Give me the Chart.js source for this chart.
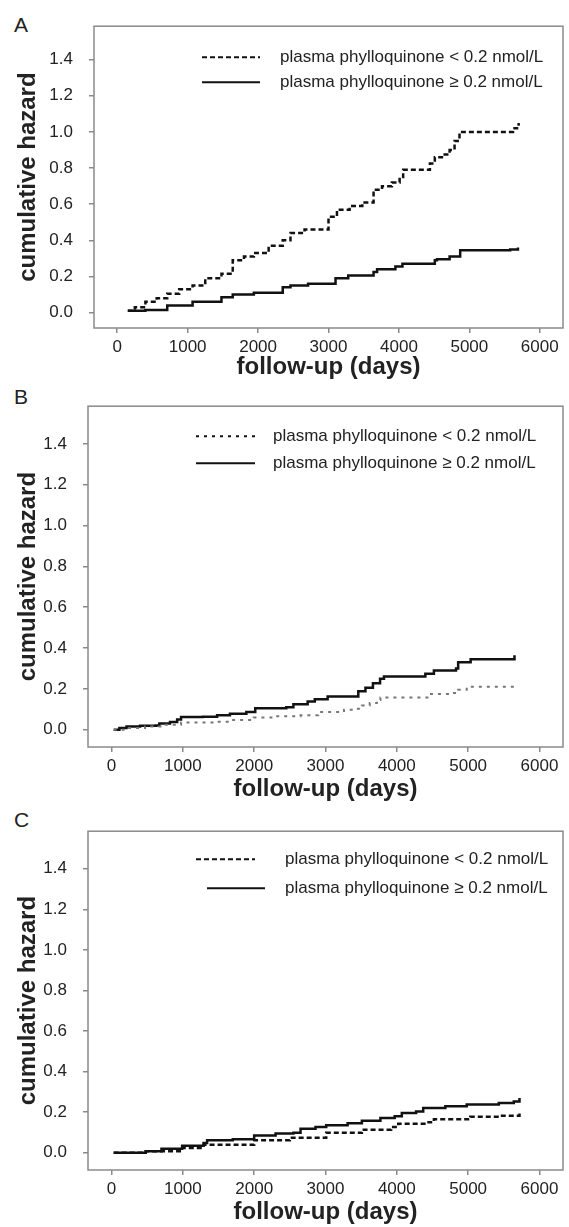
<!DOCTYPE html>
<html>
<head>
<meta charset="utf-8">
<script src="https://cdn.jsdelivr.net/npm/chart.js@4.4.0/dist/chart.umd.min.js"></script>
<style>
  html, body { margin: 0; padding: 0; background: #fff; }
  body { width: 569px; height: 1227px; position: relative; overflow: hidden; font-family: "Liberation Sans", Arial, sans-serif; }
  .panel { position: absolute; left: 0; width: 569px; }
  .letter { position: absolute; left: 14px; font-size: 21px; color: #222; line-height: 1; }
</style>
</head>
<body>
<div class="letter" style="top:14px">A</div>
<div class="letter" style="top:386px">B</div>
<div class="letter" style="top:809px">C</div>
<div class="panel" style="top:0;height:385px"><canvas id="chartA"></canvas></div>
<div class="panel" style="top:380px;height:430px"><canvas id="chartB"></canvas></div>
<div class="panel" style="top:805px;height:422px"><canvas id="chartC"></canvas></div>
<script>
// cumulative hazard (follow-up days / hazard)
const LABEL_LOW  = 'plasma phylloquinone < 0.2 nmol/L';
const LABEL_HIGH = 'plasma phylloquinone \u2265 0.2 nmol/L';
const Y_TICKS = [0, 0.2, 0.4, 0.6, 0.8, 1.0, 1.2, 1.4];
const X_TICKS = [0, 1000, 2000, 3000, 4000, 5000, 6000];

// panel A
const aLowDays = [150, 250, 400, 560, 710, 880, 1070, 1250, 1480, 1640, 1800, 1940, 2150, 2350, 2460, 2660, 2920, 3000, 3120, 3300, 3480, 3640, 3760, 3900, 4010, 4060, 4400, 4440, 4510, 4650, 4720, 4790, 4860, 5540, 5620, 5700];
const aLowHaz  = [0.01, 0.03, 0.06, 0.08, 0.105, 0.13, 0.15, 0.19, 0.215, 0.29, 0.31, 0.33, 0.37, 0.40, 0.44, 0.46, 0.46, 0.53, 0.57, 0.59, 0.61, 0.68, 0.70, 0.72, 0.74, 0.79, 0.79, 0.825, 0.86, 0.875, 0.90, 0.95, 1.00, 1.00, 1.02, 1.05];
const aHighDays = [150, 400, 710, 1070, 1480, 1640, 1940, 2350, 2460, 2710, 2970, 3100, 3280, 3640, 3690, 3950, 4050, 4410, 4510, 4540, 4720, 4870, 5580, 5690];
const aHighHaz  = [0.01, 0.015, 0.04, 0.06, 0.085, 0.10, 0.11, 0.14, 0.15, 0.16, 0.16, 0.19, 0.205, 0.225, 0.24, 0.255, 0.27, 0.27, 0.29, 0.295, 0.31, 0.345, 0.35, 0.36];

// panel B
const bLowDays = [30, 200, 470, 720, 975, 1480, 1690, 1990, 2290, 2650, 2900, 3260, 3390, 3510, 3620, 3720, 3770, 4330, 4460, 4780, 4860, 4980, 5650];
const bLowHaz  = [0, 0.008, 0.016, 0.024, 0.035, 0.039, 0.047, 0.06, 0.066, 0.07, 0.086, 0.098, 0.102, 0.118, 0.13, 0.145, 0.158, 0.158, 0.175, 0.18, 0.196, 0.21, 0.21];
const bHighDays = [30, 110, 210, 400, 620, 670, 820, 920, 975, 1280, 1480, 1660, 1890, 2015, 2450, 2550, 2750, 2850, 3030, 3360, 3460, 3560, 3665, 3765, 3820, 4350, 4400, 4520, 4830, 4860, 5035, 5640, 5650];
const bHighHaz  = [0, 0.008, 0.015, 0.019, 0.02, 0.03, 0.038, 0.05, 0.062, 0.063, 0.07, 0.078, 0.086, 0.105, 0.11, 0.125, 0.138, 0.149, 0.163, 0.163, 0.188, 0.205, 0.228, 0.25, 0.26, 0.26, 0.274, 0.29, 0.30, 0.33, 0.345, 0.345, 0.365];

// panel C
const cLowDays = [30, 480, 990, 1290, 2000, 2500, 3010, 3510, 3920, 4020, 4420, 4520, 5030, 5430, 5720];
const cLowHaz  = [0, 0.008, 0.024, 0.04, 0.062, 0.074, 0.098, 0.114, 0.127, 0.143, 0.15, 0.165, 0.177, 0.182, 0.195];
const cHighDays = [30, 480, 700, 990, 1290, 1340, 1700, 2000, 2300, 2550, 2650, 2860, 3010, 3310, 3510, 3770, 3970, 4070, 4270, 4370, 4680, 4980, 5430, 5640, 5720];
const cHighHaz  = [0, 0.008, 0.02, 0.035, 0.048, 0.062, 0.067, 0.085, 0.095, 0.098, 0.118, 0.127, 0.135, 0.146, 0.158, 0.171, 0.18, 0.196, 0.203, 0.22, 0.229, 0.238, 0.245, 0.253, 0.27];

const FONT = '"Liberation Sans", Arial, sans-serif';
const TEXT = '#222';
const AXIS = '#8a8a8a';

function points(days, haz) {
  return days.map((d, i) => ({ x: d, y: haz[i] }));
}

// box round the plot area
const frame = {
  id: 'frame',
  afterDraw(chart) {
    const { ctx, chartArea: a } = chart;
    ctx.save();
    ctx.strokeStyle = AXIS;
    ctx.lineWidth = 1.5;
    ctx.strokeRect(a.left, a.top, a.right - a.left, a.bottom - a.top);
    ctx.restore();
  },
};

// legend drawn inside the plot, top right
const insideLegend = {
  id: 'insideLegend',
  afterDatasetsDraw(chart, args, opts) {
    const { ctx, chartArea: a } = chart;
    ctx.save();
    ctx.font = '17px ' + FONT;
    ctx.textBaseline = 'middle';
    ctx.fillStyle = TEXT;
    chart.data.datasets.forEach((ds, i) => {
      const y = a.top + opts.rows[i];
      const s = opts.samples[i];
      ctx.strokeStyle = '#111';
      ctx.lineWidth = 2;
      ctx.setLineDash(ds.borderDash || []);
      ctx.beginPath();
      ctx.moveTo(a.left + s[0], y);
      ctx.lineTo(a.left + s[1], y);
      ctx.stroke();
      ctx.setLineDash([]);
      ctx.fillText(ds.label, a.left + opts.textX, y);
    });
    ctx.restore();
  },
};

function buildDatasets(low, high, lowStyle) {
  return [
    {
      label: LABEL_LOW,
      data: low,
      borderColor: lowStyle.color,
      borderWidth: lowStyle.width,
      borderDash: lowStyle.dash,
      stepped: true,
      pointRadius: 0,
    },
    {
      label: LABEL_HIGH,
      data: high,
      borderColor: '#111',
      borderWidth: 2.5,
      stepped: true,
      pointRadius: 0,
    },
  ];
}

function chartOptions(p) {
  return {
    responsive: true,
    maintainAspectRatio: false,
    animation: false,
    layout: { padding: { top: p.padTop, right: 6, left: 0, bottom: p.padBottom } },
    plugins: {
      legend: { display: false },
      tooltip: { enabled: false },
      insideLegend: p.legend,
    },
    scales: {
      x: {
        type: 'linear',
        min: -330,
        max: 6330,
        afterFit: s => { s.height = p.xHeight; },
        afterBuildTicks: s => { s.ticks = X_TICKS.map(v => ({ value: v })); },
        ticks: { color: TEXT, font: { family: FONT, size: 17 }, padding: 4, maxRotation: 0, callback: v => String(v) },
        grid: { drawOnChartArea: false, drawTicks: true, tickLength: 5, color: AXIS, lineWidth: 1.5 },
        border: { display: false },
        title: { display: true, text: 'follow-up (days)', color: TEXT, font: { family: FONT, size: 24, weight: 'bold' }, padding: { top: 0, bottom: 0 } },
      },
      y: {
        type: 'linear',
        min: -0.085,
        max: 1.585,
        afterFit: s => { s.width = p.yWidth; },
        afterBuildTicks: s => { s.ticks = Y_TICKS.map(v => ({ value: v })); },
        ticks: { color: TEXT, font: { family: FONT, size: 17 }, padding: 16, callback: v => v.toFixed(1) },
        grid: { drawOnChartArea: false, drawTicks: true, tickLength: 5, color: AXIS, lineWidth: 1.5 },
        border: { display: false },
        title: { display: true, text: 'cumulative hazard', color: TEXT, font: { family: FONT, size: 24, weight: 'bold' }, padding: { top: 14, bottom: 0 } },
      },
    },
  };
}

function initPanel(canvasId, low, high, lowStyle, p) {
  const ctx = document.getElementById(canvasId).getContext('2d');
  return new Chart(ctx, {
    type: 'line',
    data: { datasets: buildDatasets(low, high, lowStyle) },
    options: chartOptions(p),
    plugins: [frame, insideLegend],
  });
}

const DASH_BLACK = { color: '#111', width: 2.5, dash: [5, 3] };
const DASH_GREY  = { color: '#777', width: 2, dash: [3, 5] };

initPanel('chartA', points(aLowDays, aLowHaz), points(aHighDays, aHighHaz), DASH_BLACK, {
  padTop: 15, padBottom: 3, xHeight: 54, yWidth: 94,
  legend: { rows: [31, 56], samples: [[108, 166], [108, 166]], textX: 186 },
});
initPanel('chartB', points(bLowDays, bLowHaz), points(bHighDays, bHighHaz), DASH_GREY, {
  padTop: 15, padBottom: 6, xHeight: 57, yWidth: 88,
  legend: { rows: [30, 57], samples: [[108, 167], [108, 167]], textX: 185 },
});
initPanel('chartC', points(cLowDays, cLowHaz), points(cHighDays, cHighHaz), DASH_BLACK, {
  padTop: 14, padBottom: 0, xHeight: 57, yWidth: 88,
  legend: { rows: [28, 57], samples: [[108, 167], [119, 177]], textX: 197 },
});
</script>
</body>
</html>
